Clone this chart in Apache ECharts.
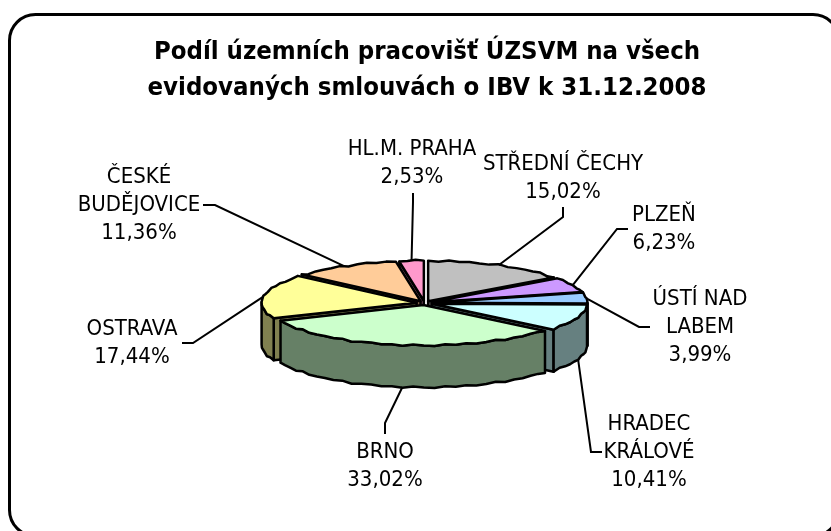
<!DOCTYPE html>
<html>
<head>
<meta charset="utf-8">
<title>ÚZSVM</title>
<style>
    html, body { margin: 0; padding: 0; background: #fff; }
    #chart { width: 831px; height: 531px; }
</style>
<script src="https://cdn.jsdelivr.net/npm/echarts@6/dist/echarts.min.js"></script>
</head>
<body>
<div id="chart"></div>
<script>
var names = ['STŘEDNÍ ČECHY', 'PLZEŇ', 'ÚSTÍ NAD\nLABEM', 'HRADEC\nKRÁLOVÉ', 'BRNO', 'OSTRAVA', 'ČESKÉ\nBUDĚJOVICE', 'HL.M. PRAHA'];
var values = [15.02, 6.23, 3.99, 10.41, 33.02, 17.44, 11.36, 2.53];
var topColors = ['#C0C0C0', '#CC99FF', '#99CCFF', '#CCFFFF', '#CCFFCC', '#FFFF99', '#FFCC99', '#FF99CC'];
var wallColors = ['#606060', '#664D80', '#4D6680', '#668080', '#668066', '#808050', '#80664D', '#804D66'];

// pozice popisku [stred x, y prvni radky]
var labelPos = [[563, 150], [664, 201], [700, 285], [649, 410], [385, 438], [132, 315], [139, 163], [412, 135]];
// lomene body vodicich car
var leaderPos = [
    [[563, 217], [563, 207]],
    [[617, 229], [628, 229]],
    [[639, 327], [650, 327]],
    [[591, 452], [602, 452]],
    [[385, 423], [385, 434]],
    [[193, 343], [182, 343]],
    [[215, 205], [203, 205]],
    [[413, 202], [413, 193]]
];

var FONT = '"DejaVu Sans Condensed", "DejaVu Sans"';
var cx = 424.5, cy = 303, rx = 155, squash = 0.26, explode = 8, depth = 42;

var total = 0;
values.forEach(function (v) { total += v; });

// uhly vysecí ve stupnich od vrcholu po smeru hodin
var slices = [];
var acc = 0;
values.forEach(function (v, i) {
    var a0 = acc / total * 360;
    acc += v;
    var a1 = acc / total * 360;
    slices.push({ a0: a0, a1: a1, mid: (a0 + a1) / 2 });
});

function rad(a) { return a * Math.PI / 180; }

function apex(s) {
    return [cx + explode * Math.sin(rad(s.mid)), cy - explode * squash * Math.cos(rad(s.mid))];
}

// bod na okraji, s malym zvlnenim jako v puvodnim obrazku
function rim(s, a) {
    var o = apex(s), t = rad(a);
    return [
        o[0] + rx * Math.sin(t),
        o[1] - rx * squash * Math.cos(t) + 0.7 * Math.sin(t * 37) + 0.4 * Math.sin(t * 23)
    ];
}

function arc(s, from, to) {
    var pts = [];
    var n = Math.max(2, Math.ceil((to - from) / 4));
    for (var k = 0; k <= n; k++) {
        pts.push(rim(s, from + (to - from) * k / n));
    }
    return pts;
}

function down(pts) {
    return pts.map(function (p) { return [p[0], p[1] + depth]; });
}

function face(points, fill) {
    return {
        type: 'polygon',
        shape: { points: points },
        style: { fill: fill, stroke: '#000', lineWidth: 2.5, lineJoin: 'round' }
    };
}

function renderSlice(params, api) {
    var i = api.value(0);
    var s = slices[i];
    var children = [];
    var o = apex(s);
    var wall = wallColors[i];

    // bocni rezy, jen ty co miri k divakovi
    if (s.a0 > 180) {
        var p0 = rim(s, s.a0);
        children.push(face([o, p0, [p0[0], p0[1] + depth], [o[0], o[1] + depth]], wall));
    }
    if (s.a1 < 180) {
        var p1 = rim(s, s.a1);
        children.push(face([o, p1, [p1[0], p1[1] + depth], [o[0], o[1] + depth]], wall));
    }
    // vnejsi stena
    var from = Math.max(s.a0, 90), to = Math.min(s.a1, 270);
    if (to > from) {
        var top = arc(s, from, to);
        children.push(face(top.concat(down(top).reverse()), wall));
    }
    children.push(face([o].concat(arc(s, s.a0, s.a1)), topColors[i]));
    return { type: 'group', children: children };
}

function renderLabel(params, api) {
    var i = api.value(0);
    var s = slices[i];
    var t = rad(s.mid);
    var start = [cx + (rx + explode) * Math.sin(t), cy - (rx + explode) * squash * Math.cos(t)];
    if (Math.cos(t) < 0) {
        start[1] += depth;
    }
    return {
        type: 'group',
        children: [
            {
                type: 'polyline',
                shape: { points: [start].concat(leaderPos[i]) },
                style: { fill: null, stroke: '#000', lineWidth: 2 }
            },
            {
                type: 'text',
                x: labelPos[i][0],
                y: labelPos[i][1],
                style: {
                    text: names[i] + '\n' + values[i].toFixed(2).replace('.', ',') + '%',
                    fill: '#000',
                    font: '22px ' + FONT,
                    lineHeight: 28,
                    align: 'center',
                    verticalAlign: 'top'
                }
            }
        ]
    };
}

// kresli se odzadu dopredu
var drawOrder = values.map(function (v, i) { return i; }).sort(function (a, b) {
    return Math.cos(rad(slices[b].mid)) - Math.cos(rad(slices[a].mid));
});

var chart = echarts.init(document.getElementById('chart'), null, { renderer: 'canvas' });
var option = {
    animation: false,
    backgroundColor: '#fff',
    title: {
        text: 'Podíl územních pracovišť ÚZSVM na všech\nevidovaných smlouvách o IBV k 31.12.2008',
        left: 422,
        top: 29,
        textAlign: 'center',
        textStyle: {
            fontFamily: FONT,
            fontSize: 25.5,
            fontWeight: 'bold',
            lineHeight: 36,
            color: '#000'
        }
    },
    graphic: [
        {
            type: 'rect',
            silent: true,
            z: -1,
            shape: { x: 9.5, y: 14.5, width: 829.5, height: 521.5, r: 26 },
            style: { fill: '#fff', stroke: '#000', lineWidth: 3 }
        }
    ],
    series: [
        {
            type: 'custom',
            coordinateSystem: 'none',
            renderItem: renderSlice,
            silent: true,
            data: drawOrder.map(function (i) { return [i]; })
        },
        {
            type: 'custom',
            coordinateSystem: 'none',
            renderItem: renderLabel,
            silent: true,
            z: 3,
            data: values.map(function (v, i) { return [i]; })
        }
    ]
};
chart.setOption(option);
</script>
</body>
</html>
